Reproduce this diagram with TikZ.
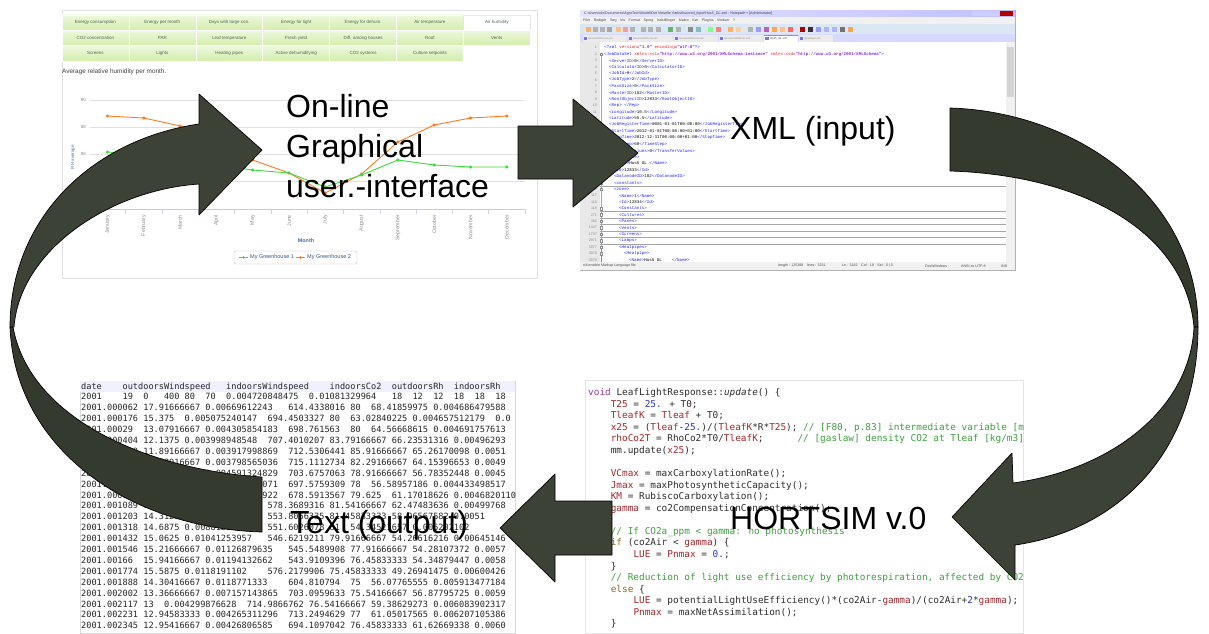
\documentclass[tikz,border=0pt]{standalone}
\usepackage{fontspec}
\setmainfont{Liberation Sans}
\newfontfamily\codefont{DejaVu Sans Mono}
\newfontfamily\xmlfont{Liberation Mono}
\usepackage{xcolor}
\definecolor{arrowfront}{HTML}{3C4236}
\definecolor{arrowback}{HTML}{353A2F}
\definecolor{tabtop}{HTML}{EEF8DF}
\definecolor{tabbot}{HTML}{D3EDAA}
\definecolor{tabtext}{HTML}{556655}
\definecolor{chartblue}{HTML}{4572A7}
\definecolor{ghone}{HTML}{3DDC3D}
\definecolor{ghtwo}{HTML}{FF7A22}
\definecolor{xmlblue}{HTML}{2020FF}
\definecolor{xmlred}{HTML}{E02020}
\definecolor{xmlpurple}{HTML}{8A2BE2}
\definecolor{cvar}{HTML}{A3262B}
\definecolor{cnum}{HTML}{2635C9}
\definecolor{ccom}{HTML}{3FA03F}
\definecolor{ckey}{HTML}{9A3BA0}
\definecolor{cctl}{HTML}{8C6A1E}
\definecolor{ctext}{HTML}{2E2E2E}
\definecolor{winbar}{HTML}{F1F1F1}
\definecolor{toolbar}{HTML}{DCE7F4}
\usetikzlibrary{positioning, calc}
\newcommand{\xmltag}[1]{\textcolor{xmlblue}{#1}}
\newcommand{\xmlattr}[1]{\textcolor{xmlred}{#1}}
\newcommand{\xmlval}[1]{\textcolor{xmlpurple}{\bfseries #1}}
\newcommand{\codevar}[1]{\textcolor{cvar}{#1}}
\newcommand{\codenum}[1]{\textcolor{cnum}{#1}}
\newcommand{\codecom}[1]{\textcolor{ccom}{#1}}
\newcommand{\codekey}[1]{\textcolor{ckey}{#1}}
\newcommand{\codectl}[1]{\textcolor{cctl}{#1}}

\begin{document}
\begin{tikzpicture}[x=1pt, y=-1pt,
    panel/.style={draw=black!12, fill=white, line width=0.5pt, inner sep=0pt},
    webtab/.style={draw=white, line width=0.6pt, top color=tabtop, bottom color=tabbot,
                   minimum width=66.9pt, minimum height=15.3pt, inner sep=0pt,
                   font=\fontsize{4.5}{5}\selectfont, text=tabtext},
    minitext/.style={font=\fontsize{4.5}{5}\selectfont, inner sep=0pt},
    monthlbl/.style={font=\fontsize{5.2}{6}\selectfont, inner sep=0pt, text=black!45,
                     rotate=90, anchor=east},
    biglabel/.style={font=\fontsize{32}{40}\selectfont, inner sep=0pt, align=left},
    xmlline/.style={font=\xmlfont\fontsize{4.2}{5}\selectfont, inner sep=0pt, anchor=west},
    lineno/.style={font=\fontsize{3.6}{4}\selectfont, text=black!45, inner sep=0pt, anchor=east},
    barlbl/.style={font=\fontsize{3.6}{4}\selectfont, text=black!70, inner sep=0pt, anchor=west},
    codeline/.style={font=\codefont\fontsize{9.4}{11}\selectfont, text=ctext, inner sep=0pt,
                     anchor=base west},
    dataline/.style={font=\codefont\fontsize{8.6}{10}\selectfont, text=black!85, inner sep=0pt,
                     anchor=base west},
    blockarrow/.style={fill=arrowfront, draw=black, line width=0.7pt, line join=round},
    backarrow/.style={blockarrow, fill=arrowback}
  ]
  \fill[white] (0,0) rectangle (1209,633);
  \useasboundingbox (0,0) rectangle (1209,633);

  % --- web page with the chart
  \node[panel, anchor=north west, minimum width=475pt, minimum height=268pt] (webshot) at (62,10) {};
  \foreach \t [count=\i from 0] in {Energy consumption, Energy per month, Days with large con.,
      Energy for light, Energy for dehum., Air temperature}
    \node[webtab] (taba\i) at ({95.45+66.9*\i},22.6) {\t};
  \node[webtab, top color=white, bottom color=white, draw=black!10] (taba6) at ({95.45+66.9*6},22.6) {Air humidity};
  \foreach \t [count=\i from 0] in {CO2 concentration, PAR, Leaf temperature, Fresh yield,
      Diff. among houses, Roof, Vents}
    \node[webtab] (tabb\i) at ({95.45+66.9*\i},37.9) {\t};
  \foreach \t [count=\i from 0] in {Screens, Lights, Heating pipes, Active dehumidifying,
      CO2 systems, Culture setpoints}
    \node[webtab] (tabc\i) at ({95.45+66.9*\i},53.2) {\t};
  \node[minitext, anchor=west, font=\fontsize{6.4}{7}\selectfont, text=black!75] (charttitle)
    at (62,72) {Average relative humidity per month.};
  \foreach \yv/\lab in {100/90, 127/88, 154/86, 181/84} {
    \draw[black!12, line width=0.6pt] (90,\yv) -- (525,\yv);
    \node[minitext, text=black!45, anchor=east] (ylab\lab) at (86,\yv) {\lab};
  }
  \draw[chartblue!35, line width=0.7pt] (90,209) -- (525,209);
  \foreach \i in {0,...,12}
    \draw[chartblue!30, line width=0.5pt] ({89.35+36.3*\i},209) -- ++(0,5);
  \foreach \m [count=\i from 0] in {January, February, March, April, May, June, July,
      August, September, October, November, December}
    \node[monthlbl] (mon\i) at ({107.5+36.3*\i},215) {\m};
  \node[minitext, rotate=90, text=chartblue] (rhlab) at (73,157) {RH average};
  \node[minitext, font=\bfseries\fontsize{5.4}{6}\selectfont, text=chartblue] (monthlab) at (306,241) {Month};
  \draw[ghtwo, line width=0.9pt, mark=*, mark size=1.1pt] plot coordinates {
    (107.5,116) (143.8,118) (180.1,126) (216.4,138) (252.7,160) (289,173)
    (325.3,193) (361.6,174) (397.9,142) (434.2,125) (470.5,118) (506.8,116)};
  \draw[ghone, line width=0.9pt, mark=*, mark size=1.1pt] plot coordinates {
    (107.5,152) (143.8,155) (180.1,160) (216.4,165) (252.7,170) (289,173)
    (325.3,187) (361.6,175) (397.9,160) (434.2,165) (470.5,167) (506.8,167)};
  \node[draw=black!25, rounded corners=1.5pt, minimum width=123pt, minimum height=13pt,
        inner sep=0pt] (legend) at (295.5,257.5) {};
  \draw[ghone, line width=0.9pt] (239,257.5) -- (248,257.5);
  \fill[ghone] (243.5,257.5) circle (1.3);
  \node[minitext, font=\fontsize{5.5}{6}\selectfont, anchor=west, text=chartblue!80!black] (legone)
    at (250,257.5) {My Greenhouse 1};
  \draw[ghtwo, line width=0.9pt] (296,257.5) -- (305,257.5);
  \fill[ghtwo] (300.5,257.5) circle (1.3);
  \node[minitext, font=\fontsize{5.5}{6}\selectfont, anchor=west, text=chartblue!80!black] (legtwo)
    at (307,257.5) {My Greenhouse 2};

  % --- Notepad++ window with the XML file
  \node[panel, draw=black!30, anchor=north west, minimum width=435pt, minimum height=260pt] (xmlshot) at (580,10) {};
  \shade[left color=blue!10, right color=blue!25!white] (580,10) rectangle (1015,17);
  \node[barlbl, text=black!75] (wintitle) at (584,13.5)
    {C:\textbackslash Users\textbackslash okr\textbackslash Documents\textbackslash AgroTech\textbackslash Model\textbackslash Det Virtuelle Væksthus\textbackslash xml\_input\textbackslash Hus5\_GL.xml - Notepad++ [Administrator]};
  \fill[blue!20] (972,11) rectangle (985.5,16);
  \fill[blue!20] (986,11) rectangle (999,16);
  \fill[red!70!black] (999.5,11) rectangle (1013,16);
  \fill[winbar] (580,17) rectangle (1015,24);
  \node[barlbl] (winmenu) at (583,20.5)
    {Filer\quad Redigér\quad Søg\quad Vis\quad Format\quad Sprog\quad Indstillinger\quad Makro\quad Kør\quad Plugins\quad Vinduer\quad ?};
  \fill[toolbar] (580,24) rectangle (1015,34);
  \foreach \xi/\ic in {586/orange!60, 593/black!30, 600/black!30, 607/black!35, 616/orange!50,
      623/red!40, 630/black!30, 641/black!30, 648/black!30, 656/black!30, 668/green!50!black!60,
      676/black!30, 688/black!45, 696/teal!50, 708/green!50, 716/red!50, 728/orange!60,
      736/orange!40, 748/black!30, 756/blue!40, 764/violet!60, 772/orange!70, 780/orange!50,
      788/red!60, 800/red!70!black, 808/black!80, 816/blue!40, 824/blue!30, 832/blue!30,
      840/black!55, 848/orange!70}
    \fill[\ic] (\xi,26.5) rectangle ++(5,5);
  \fill[blue!15] (580,34) rectangle (1015,42);
  \foreach \xa/\xb/\tn in {582/627/Sensors2000.csv.xml, 627/673/Sensors3000.csv.xml,
      673/718/Sensors5000.csv.xml, 718/763/Sensors10000.csv.xml, 798/833/InputInput.xml} {
    \fill[black!8] (\xa+0.5,35) rectangle (\xb-0.5,42);
    \fill[blue!55] (\xa+1.5,36.5) rectangle ++(3.5,3.5);
    \node[barlbl, font=\fontsize{2.6}{3}\selectfont, text=black!45] at (\xa+6,38.5) {\tn};
  }
  \fill[white] (763.5,35) rectangle (797.5,42);
  \draw[orange, line width=0.8pt] (763.5,35) -- (797.5,35);
  \fill[blue!55] (765,36.5) rectangle ++(3.5,3.5);
  \node[barlbl, font=\fontsize{2.8}{3}\selectfont] (acttab) at (770,38.5) {Hus5\_GL.xml};
  \fill[black!9] (580.3,42) rectangle (600,262);
  \fill[winbar] (1006,42) rectangle (1014.5,262);
  \fill[black!17] (1007,47) rectangle (1013.5,97);
  \foreach \n [count=\k] in {1,...,23,117,118,119,271,362,1447,1737,2971,3077,3078,3079}
    \node[lineno] (ln\k) at (597,{47.7+6.43*(\k-1)}) {\n};
  \begin{scope}
    \clip (600,42) rectangle (1006,262);
    \draw[black!35, line width=0.4pt] (601,56) -- (601,246);
    \draw[red!65, line width=0.5pt] (601,246) -- (601,262);
    \foreach \k in {22,26,27,28,29,30,31}
      \draw[black!35, line width=0.6pt] (600,{47.7+6.43*(\k-1)+3.2}) -- (1006,{47.7+6.43*(\k-1)+3.2});
    \foreach \k in {2,22,23,26,27,28,29,30,31,32,33}
      \draw[black!45, fill=white, line width=0.3pt] (599.7,{47.7+6.43*(\k-1)-1.3}) rectangle ++(2.6,2.6);
    \node[xmlline] (x1) at (604,47.7)
      {\xmltag{<?xml} \xmlattr{version}=\xmlval{"1.0"} \xmlattr{encoding}=\xmlval{"utf-8"}\xmltag{?>}};
    \node[xmlline] (x2) at (604,54.1)
      {\xmltag{<JobDataSet} \xmlattr{xmlns:xsi}=\xmlval{"http://www.w3.org/2001/XMLSchema-instance"} \xmlattr{xmlns:xsd}=\xmlval{"http://www.w3.org/2001/XMLSchema"}\xmltag{>}};
    \foreach \tg/\vl [count=\k from 3] in {ServerID/0, CalculatorID/0, JobId/0, JobType/2,
        PackSize/0, MasterID/182, RootObjectID/12833, Rep/~, Longitude/10.5, Latitude/55.5,
        JobRegisterTime/0001-01-01T00:00:00, StartTime/2012-01-01T00:00:00+01:00,
        StopTime/2012-12-31T00:00:00+01:00, TimeStep/60, TransferValues/0}
      \node[xmlline] (x\k) at (609,{47.7+6.43*(\k-1)}) {\xmltag{<\tg>}\vl\xmltag{</\tg>}};
    \foreach \xx/\ln [count=\k from 18] in {609/{\xmltag{<Greenhouse>}},
        614/{\xmltag{<Name>}Hus5 GL~\xmltag{</Name>}}, 614/{\xmltag{<Id>}12833\xmltag{</Id>}},
        614/{\xmltag{<DatanodeID>}182\xmltag{</DatanodeID>}}, 614/{\xmltag{<constants>}},
        614/{\xmltag{<zone>}}, 619/{\xmltag{<Name>}1\xmltag{</Name>}},
        619/{\xmltag{<Id>}12834\xmltag{</Id>}}, 619/{\xmltag{<Constants>}},
        619/{\xmltag{<Cultures>}}, 619/{\xmltag{<Panes>}}, 619/{\xmltag{<Vents>}},
        619/{\xmltag{<Screens>}}, 619/{\xmltag{<Lamps>}}, 619/{\xmltag{<Heatpipes>}},
        624/{\xmltag{<Heatpipe>}}, 629/{\xmltag{<Name>}Hus5 GL~~~~\xmltag{</Name>}}}
      \node[xmlline] (x\k) at (\xx,{47.7+6.43*(\k-1)}) {\ln};
  \end{scope}
  \fill[winbar] (580.3,262) rectangle (1014.7,269.7);
  \node[barlbl] (stat1) at (583,266) {eXtensible Markup Language file};
  \node[barlbl] (stat2) at (778,266) {length : 125388\quad lines : 3231};
  \node[barlbl] (stat3) at (842,266) {Ln : 3182\quad Col : 19\quad Sel : 0 | 0};
  \node[barlbl] (stat4) at (925,266) {Dos\textbackslash Windows};
  \node[barlbl] (stat5) at (961,266) {ANSI as UTF-8};
  \node[barlbl] (stat6) at (1001,266) {INS};

  % --- text output
  \node[panel, draw=black!15, anchor=north west, minimum width=435pt, minimum height=252pt] (textshot) at (80,381) {};
  \fill[blue!6] (80.3,381.3) rectangle (514.7,391.5);
  \begin{scope}
    \clip (80,381) rectangle (515,633);
    \foreach \row [count=\k from 0] in {
        date~~~~outdoorsWindspeed~~~indoorsWindspeed~~~~indoorsCo2~~outdoorsRh~~indoorsRh,
        2001~~~~19~~0~~~400~80~~70~~0.004720848475~~0.01081329964~~~18~~12~~12~~18~~18~~18,
        2001.000062~17.91666667~0.00669612243~~~614.4338016~80~~68.41859975~0.004686479588,
        2001.000176~15.375~~0.005075240147~~694.4503327~80~~63.02840225~0.004657512179~~0.0,
        2001.00029~~13.07916667~0.004305854183~~698.761563~~80~~64.56668615~0.004691757613,
        2001.000404~12.1375~0.003998948548~~707.4010207~83.79166667~66.23531316~0.00496293,
        2001.000518~11.89166667~0.003917998869~~712.5306441~85.91666667~65.26170098~0.0051,
        2001.000633~11.52916667~0.003798565036~~715.1112734~82.29166667~64.15396653~0.0049,
        2001.000747~11.67916667~0.004591324829~~703.6757063~78.91666667~56.78352448~0.0045,
        2001.000861~11.70416667~0.004363112071~~697.5759309~78~~56.58957186~0.004433498517,
        2001.000975~12.39166667~0.004456688922~~678.5913567~79.625~~61.17018626~0.004682011065,
        2001.001089~13.8125~0.005289116738~~578.3689316~81.54166667~62.47483636~0.00499768,
        2001.001203~14.3125~0.006081342554~~553.8066335~81.45833333~58.96567582~0.0051,
        2001.001318~14.6875~0.008812345678~~551.6026078~81~~54.34521657~0.005202102,
        2001.001432~15.0625~0.01041253957~~~546.6219211~79.91666667~54.26616216~0.00645146,
        2001.001546~15.21666667~0.01126879635~~~545.5489908~77.91666667~54.28107372~0.0057,
        2001.00166~~15.94166667~0.01194132662~~~543.9109396~76.45833333~54.34879447~0.0058,
        2001.001774~15.5875~0.0118191102~~~~576.2179906~75.45833333~49.26941475~0.00600426,
        2001.001888~14.30416667~0.0118771333~~~~604.810794~~75~~56.07765555~0.005913477184,
        2001.002002~13.36666667~0.007157143865~~703.0959633~75.54166667~56.87795725~0.0059,
        2001.002117~13~~0.004299876628~~714.9866762~76.54166667~59.38629273~0.006083902317,
        2001.002231~12.94583333~0.004265311296~~713.2494629~77~~61.05017565~0.006207105386,
        2001.002345~12.95416667~0.00426806585~~~694.1097042~76.45833333~61.62669338~0.0060}
      \node[dataline] (row\k) at (81,{389+10.9*\k}) {\row};
  \end{scope}

  % --- model source code
  \node[panel, draw=black!10, anchor=north west, minimum width=438pt, minimum height=253pt] (codeshot) at (585,380) {};
  \begin{scope}
    \clip (585,380) rectangle (1023,633);
    \node[codeline] (c0) at (588,395.4) {\codekey{void} LeafLightResponse::\textit{update}() \{};
    \node[codeline] (c1) at (610.6,407) {\codevar{T25} = \codenum{25.} + T0;};
    \node[codeline] (c2) at (610.6,418.5) {\codevar{TleafK} = \codevar{Tleaf} + T0;};
    \node[codeline] (c3) at (610.6,430.1) {\codevar{x25} = (\codevar{Tleaf}-\codenum{25.})/(\codevar{TleafK}*R*\codevar{T25}); \codecom{// [F80, p.83] intermediate variable [m}};
    \node[codeline] (c4) at (610.6,441.7) {\codevar{rhoCo2T} = RhoCo2*T0/\codevar{TleafK};~~~~~~\codecom{// [gaslaw] density CO2 at Tleaf [kg/m3]}};
    \node[codeline] (c5) at (610.6,453.3) {mm.update(\codevar{x25});};
    \node[codeline] (c7) at (610.6,476.4) {\codevar{VCmax} = maxCarboxylationRate();};
    \node[codeline] (c8) at (610.6,488) {\codevar{Jmax} = maxPhotosyntheticCapacity();};
    \node[codeline] (c9) at (610.6,499.5) {\codevar{KM} = RubiscoCarboxylation();};
    \node[codeline] (c10) at (610.6,511.1) {\codevar{gamma} = co2CompensationConcentration();};
    \node[codeline] (c12) at (610.6,534.2) {\codecom{// If CO2a\_ppm < gamma: no photosynthesis}};
    \node[codeline] (c13) at (610.6,545.8) {\codectl{if} (co2Air < \codevar{gamma}) \{};
    \node[codeline] (c14) at (633.3,557.4) {\codevar{LUE} = \codevar{Pnmax} = \codenum{0.};};
    \node[codeline] (c15) at (610.6,569) {\}};
    \node[codeline] (c16) at (610.6,580.5) {\codecom{// Reduction of light use efficiency by photorespiration, affected by CO2}};
    \node[codeline] (c17) at (610.6,592.1) {\codectl{else} \{};
    \node[codeline] (c18) at (633.3,603.7) {\codevar{LUE} = potentialLightUseEfficiency()*(co2Air-\codevar{gamma})/(co2Air+\codenum{2}*\codevar{gamma});};
    \node[codeline] (c19) at (633.3,615.3) {\codevar{Pnmax} = maxNetAssimilation();};
    \node[codeline] (c20) at (610.6,626.8) {\}};
  \end{scope}

  % --- the cycle of arrows
  \draw[blockarrow] (518,126) -- (573,126) -- (573,99) -- (638,153) -- (573,207)
    -- (573,179) -- (518,179) -- cycle;
  \draw[backarrow] (950,108) .. controls (1080,112) and (1198,200) .. (1198,327)
    -- (1194,327) .. controls (1185,230) and (1080,175) .. (950,171) -- cycle;
  \draw[blockarrow] (1198,327) .. controls (1198,450) and (1120,530) .. (1015,545)
    -- (1015,580) -- (952,517) -- (1012,453) -- (1013,483)
    .. controls (1110,470) and (1190,410) .. (1194,327) -- cycle;
  \draw[blockarrow] (612,501) -- (555,501) -- (555,474) -- (500,528) -- (555,582)
    -- (555,555) -- (612,555) -- cycle;
  \draw[backarrow] (262,477) .. controls (150,470) and (30,420) .. (13,327)
    -- (10,327) .. controls (15,450) and (130,528) .. (262,532) -- cycle;
  \draw[blockarrow] (14,327) .. controls (20,250) and (110,190) .. (199,184)
    -- (199,215) -- (262,150) -- (199,94) -- (199,124)
    .. controls (90,140) and (10,220) .. (10,327) -- cycle;

  % --- labels
  \node[biglabel, anchor=north west] (guilabel) at (286,94.5) {On-line\\Graphical\\user.-interface};
  \node[biglabel, anchor=base west] (xmllabel) at (730,139) {XML (input)};
  \node[biglabel, anchor=base west] (hortlabel) at (730,529) {HORTSIM v.0};
  \node[biglabel, anchor=base west] (txtlabel) at (290,533) {Text (output)};
\end{tikzpicture}
\end{document}
